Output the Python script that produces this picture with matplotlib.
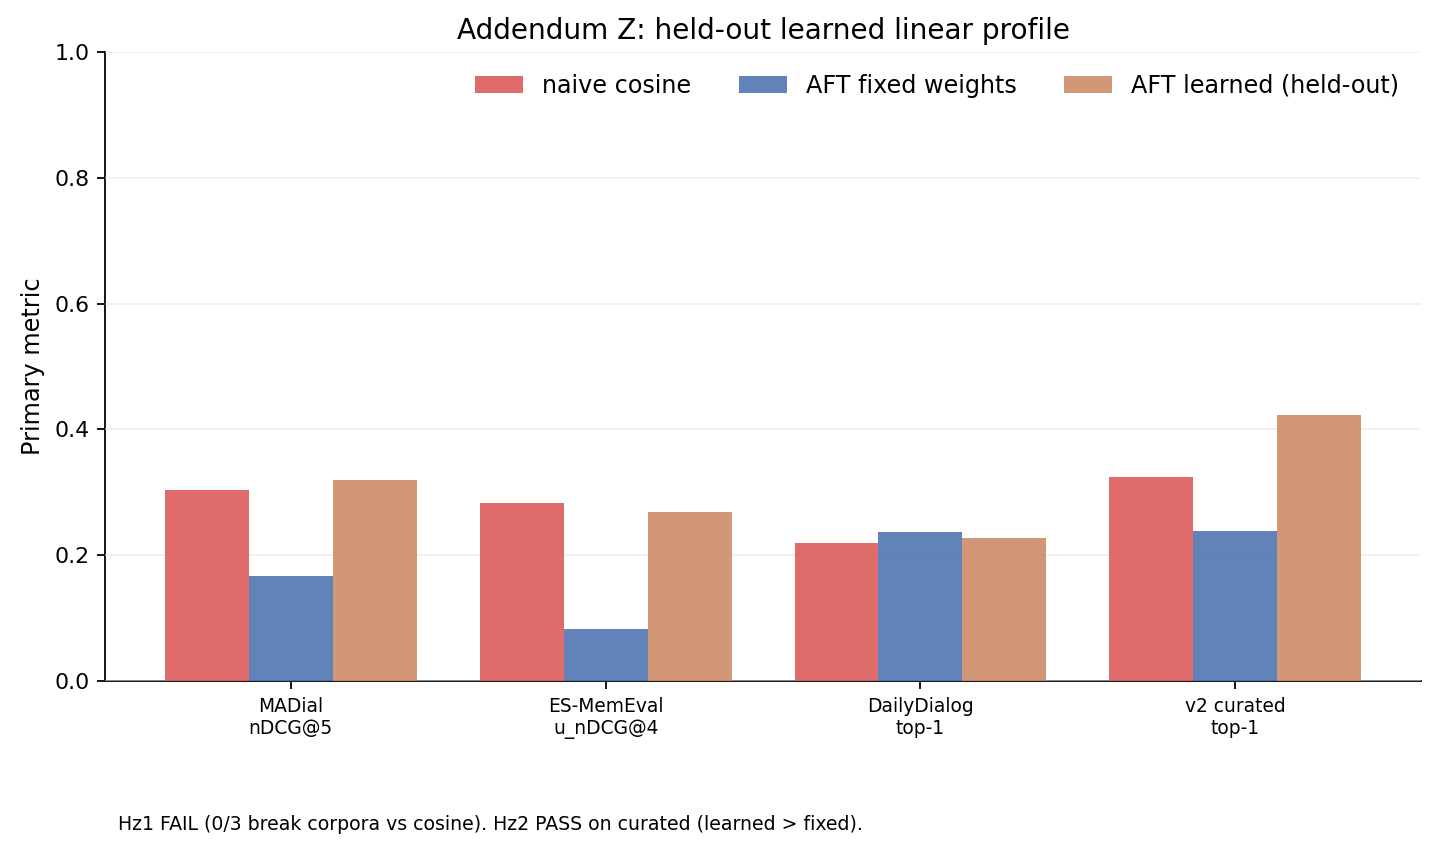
import numpy as np
import matplotlib
matplotlib.use("Agg")
import matplotlib.pyplot as plt

datasets = ["MADial\nnDCG@5", "ES-MemEval\nu_nDCG@4", "DailyDialog\ntop-1", "v2 curated\ntop-1"]
naive_cosine = [0.304, 0.283, 0.219, 0.325]
aft_fixed = [0.167, 0.083, 0.237, 0.239]
aft_learned = [0.320, 0.269, 0.227, 0.423]

series = [
    ("naive cosine", naive_cosine, "#da5151"),
    ("AFT fixed weights", aft_fixed, "#466dad"),
    ("AFT learned (held-out)", aft_learned, "#ca855e"),
]

fig, ax = plt.subplots(figsize=(1439 / 160, 853 / 160), dpi=160)
fig.subplots_adjust(left=0.073, right=0.9875, top=0.939, bottom=0.2016)

x = np.arange(len(datasets))
w = 0.8 / 3
for i, (label, vals, color) in enumerate(series):
    ax.bar(x + (i - 1) * w, vals, w, label=label, color=color, alpha=0.85, zorder=3)

ax.yaxis.grid(True, color="#e6e6e6", linewidth=0.8, zorder=0)
ax.set_axisbelow(False)
for line in ax.get_ygridlines():
    line.set_zorder(4)
    line.set_alpha(0.6)

ax.set_ylim(0, 1.0)
ax.set_xticks(x)
ax.set_xticklabels(datasets, fontsize=8.4)
ax.tick_params(axis="y", labelsize=9.9)
ax.set_ylabel("Primary metric", fontsize=10.8)
ax.set_title("Addendum Z: held-out learned linear profile", fontsize=12.6)
ax.spines["top"].set_visible(False)
ax.spines["right"].set_visible(False)
ax.legend(loc="upper right", ncol=3, frameon=False, fontsize=10.75)

fig.text(0.082, 0.033, "Hz1 FAIL (0/3 break corpora vs cosine). Hz2 PASS on curated (learned > fixed).",
         fontsize=8.5, va="center", ha="left")

fig.savefig("out.png", dpi=160)
